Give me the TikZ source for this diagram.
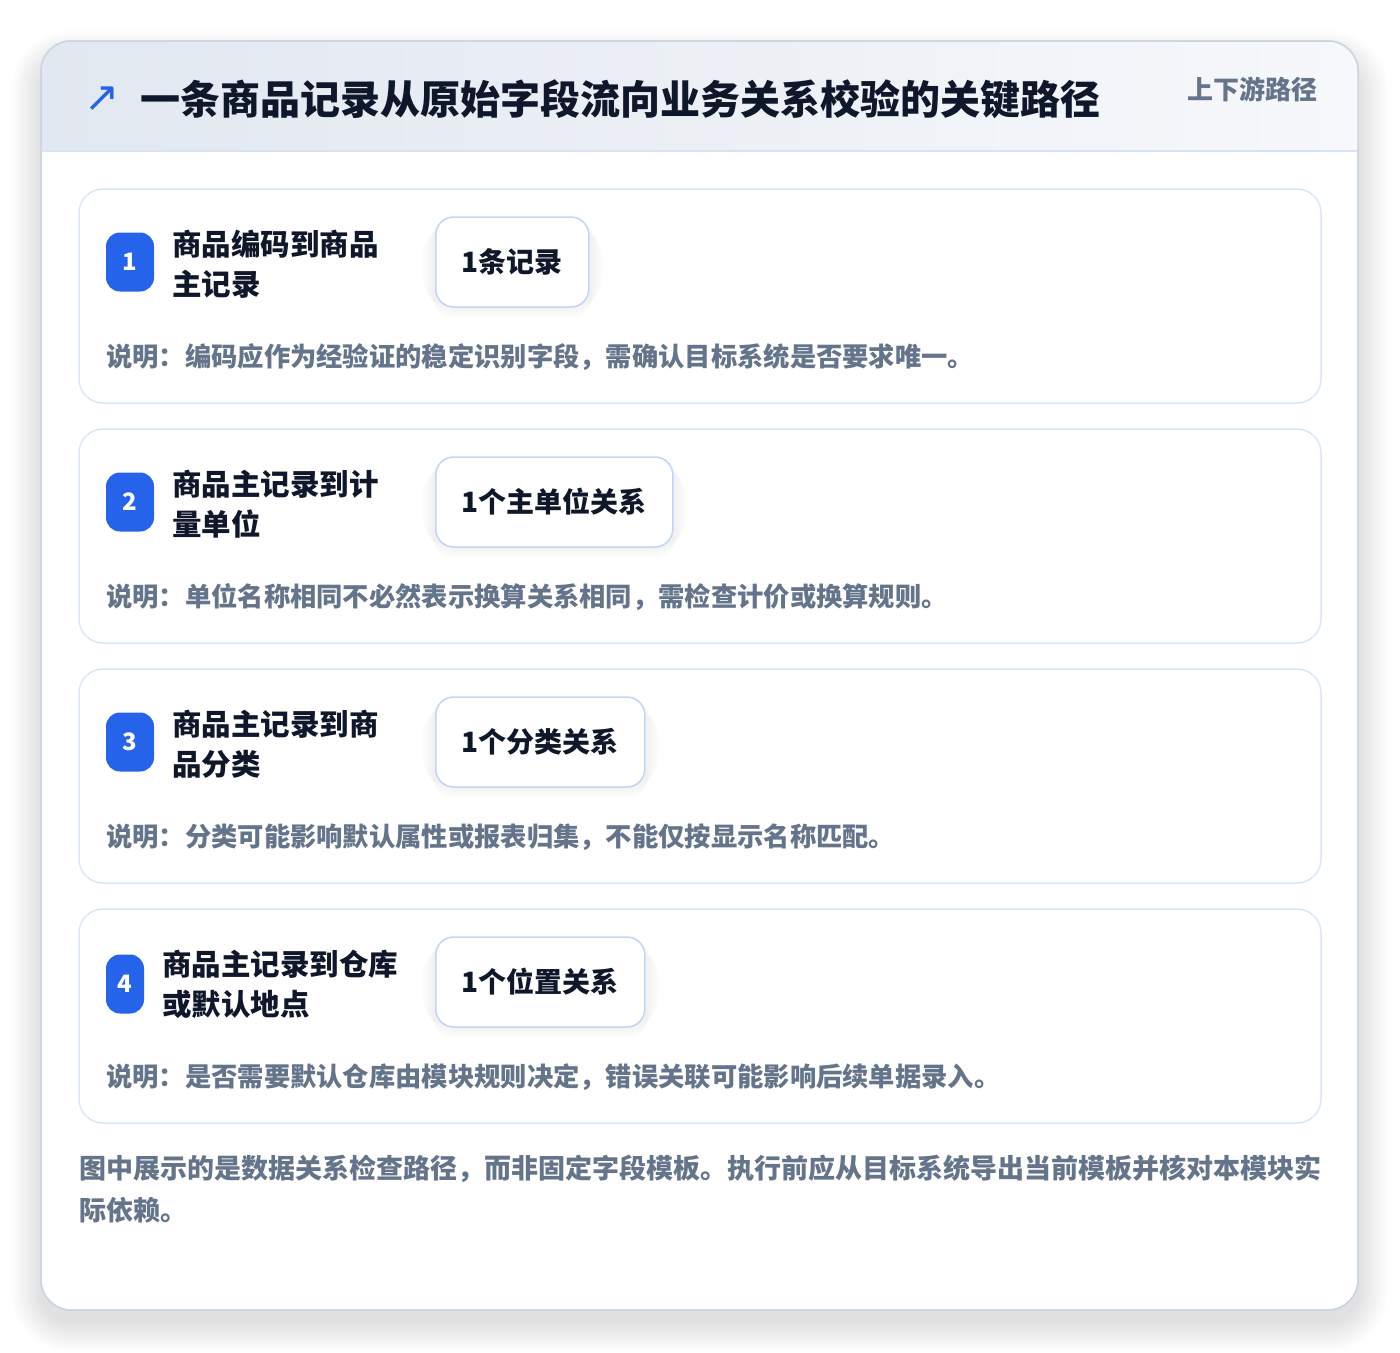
\documentclass[tikz,border=0pt]{standalone}
\usepackage{fontspec}
\setmainfont{Noto Sans CJK SC}
\newfontfamily\symfont{DejaVu Sans}
\definecolor{ink}{HTML}{0F172A}
\definecolor{muted}{HTML}{64748B}
\definecolor{badgeblue}{HTML}{2563EB}
\definecolor{cardline}{HTML}{DBE7F6}
\definecolor{chipline}{HTML}{BFD6F5}
\definecolor{outerline}{HTML}{CBD5E1}
\definecolor{headL}{HTML}{E2E8F0}
\definecolor{headR}{HTML}{F6F8FB}
\definecolor{headline}{HTML}{D6E3F3}
\tikzset{
  outercard/.style={draw=outerline, line width=1.5pt, fill=white, rounded corners=30pt,
    minimum width=1317pt, minimum height=1269pt, inner sep=0},
  stepcard/.style={draw=cardline, line width=1.5pt, fill=white, rounded corners=24pt,
    minimum width=1242pt, minimum height=214pt, inner sep=0},
  badge/.style={fill=badgeblue, rounded corners=14pt, minimum width=48pt, minimum height=59pt,
    text=white, font=\bfseries\fontsize{24}{24}\selectfont, inner sep=0},
  chip/.style={draw=chipline, line width=1.5pt, fill=white, rounded corners=18pt,
    minimum height=90pt, inner xsep=26pt, anchor=west, text=ink,
    font=\bfseries\fontsize{28}{28}\selectfont},
  steptitle/.style={anchor=west, align=left, inner sep=0, text=ink,
    font=\bfseries\fontsize{29.5}{40}\selectfont},
  desc/.style={anchor=west, inner sep=0, text=muted, font=\bfseries\fontsize{26.3}{28}\selectfont},
  softshadow/.style={fill=black, opacity=0.004},
}
\newcommand\chipshadow[1]{%
  \foreach \s in {1,...,14}{%
    \fill[softshadow, rounded corners=18pt+\s pt]
      ([xshift=-\s pt, yshift=-\s pt+2pt]#1.north west) rectangle ([xshift=\s pt, yshift=\s pt-12pt]#1.south east);}}
\begin{document}
\begin{tikzpicture}[x=1pt,y=-1pt]
\useasboundingbox (0,0) rectangle (1400,1352);
\fill[white] (0,0) rectangle (1400,1352);
% outer shadow
\foreach \s in {1,...,30}{%
  \fill[softshadow, opacity=0.0032, rounded corners=30pt+\s pt] (41-\s,60-\s) rectangle (1358+\s,1322+\s);}
% outer card
\node[outercard] (outer) at (699.5,675.5) {};
\begin{scope}
  \clip[rounded corners=30pt] (41,41) rectangle (1358,1310);
  \shade[left color=headL, right color=headR] (41,41) rectangle (1358,151);
  \draw[headline, line width=1.5pt] (41,151) -- (1358,151);
\end{scope}
\draw[outerline, line width=1.5pt, rounded corners=30pt] (41,41) rectangle (1358,1310);
% header
\node[text=badgeblue, font=\symfont\fontsize{42}{42}\selectfont, inner sep=0] (icon) at (102,99) {↗};
\node[anchor=west, inner sep=0, text=ink, font=\bfseries\fontsize{40}{40}\selectfont] (title) at (140,99) {一条商品记录从原始字段流向业务关系校验的关键路径};
\node[anchor=east, inner sep=0, text=muted, font=\bfseries\fontsize{26}{26}\selectfont] (tag) at (1318,89) {上下游路径};
% step 1
\node[stepcard] (card1) at (700,296) {};
\node[badge] (b1) at (130,262) {1};
\node[steptitle] (t1) at (172,264) {商品编码到商品\\主记录};
\path node[chip, draw=none, fill=none, text=white] (c1) at (435,262) {1条记录};
\chipshadow{c1}
\node[chip] (c1) at (435,262) {1条记录};
\node[desc] (d1) at (106,357) {说明：编码应作为经验证的稳定识别字段，需确认目标系统是否要求唯一。};
% step 2
\node[stepcard] (card2) at (700,536) {};
\node[badge] (b2) at (130,502) {2};
\node[steptitle] (t2) at (172,504) {商品主记录到计\\量单位};
\path node[chip, draw=none, fill=none, text=white] (c2) at (435,502) {1个主单位关系};
\chipshadow{c2}
\node[chip] (c2) at (435,502) {1个主单位关系};
\node[desc] (d2) at (106,597) {说明：单位名称相同不必然表示换算关系相同，需检查计价或换算规则。};
% step 3
\node[stepcard] (card3) at (700,776) {};
\node[badge] (b3) at (130,742) {3};
\node[steptitle] (t3) at (172,744) {商品主记录到商\\品分类};
\path node[chip, draw=none, fill=none, text=white] (c3) at (435,742) {1个分类关系};
\chipshadow{c3}
\node[chip] (c3) at (435,742) {1个分类关系};
\node[desc] (d3) at (106,837) {说明：分类可能影响默认属性或报表归集，不能仅按显示名称匹配。};
% step 4
\node[stepcard] (card4) at (700,1016) {};
\node[badge, minimum width=38pt] (b4) at (125,984) {4};
\node[steptitle] (t4) at (162,984) {商品主记录到仓库\\或默认地点};
\path node[chip, draw=none, fill=none, text=white] (c4) at (435,982) {1个位置关系};
\chipshadow{c4}
\node[chip] (c4) at (435,982) {1个位置关系};
\node[desc] (d4) at (106,1077) {说明：是否需要默认仓库由模块规则决定，错误关联可能影响后续单据录入。};
% footer
\node[anchor=north west, align=left, inner sep=0, text=muted, font=\bfseries\fontsize{27}{42}\selectfont] (foot) at (79,1155) {图中展示的是数据关系检查路径，而非固定字段模板。执行前应从目标系统导出当前模板并核对本模块实\\际依赖。};
\end{tikzpicture}
\end{document}
